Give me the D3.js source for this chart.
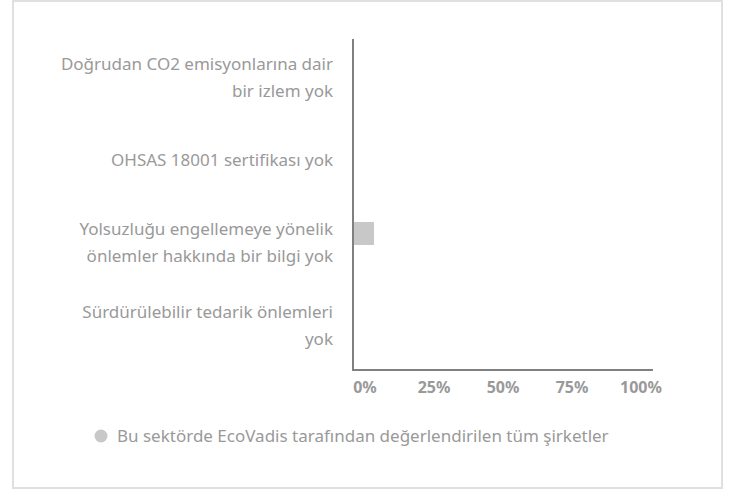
<!DOCTYPE html>
<html><head><meta charset="utf-8">
<script src="https://cdn.jsdelivr.net/npm/d3@7/dist/d3.min.js"></script>
<style>body{margin:0;background:#fff}svg{display:block}text{font-family:"Noto Sans",sans-serif}</style>
</head><body><svg id="c" width="730" height="490"></svg>
<script>
const categories = [
  "Doğrudan CO2 emisyonlarına dair\nbir izlem yok",
  "OHSAS 18001 sertifikası yok",
  "Yolsuzluğu engellemeye yönelik\nönlemler hakkında bir bilgi yok",
  "Sürdürülebilir tedarik önlemleri\nyok"
];
const seriesNames = ["Bu sektörde EcoVadis tarafından değerlendirilen tüm şirketler", "company"];
const sectorValues = [0, 0, 7, 0];
const tickValues = [0, 25, 50, 75, 100];
const tickLabels = ["0%", "25%", "50%", "75%", "100%"];

const svg = d3.select("#c");
svg.append("rect").attr("x",13).attr("y",1).attr("width",709).attr("height",487)
  .attr("fill","#fff").attr("stroke","#e0e0e0").attr("stroke-width",2);

const x = d3.scaleLinear().domain([0,100]).range([353,653]);
const y = d3.scaleBand().domain(categories).range([39,370]).padding(0);
const sub = d3.scaleBand().domain(seriesNames).range([0,y.bandwidth()]).paddingInner(0.07).paddingOuter(0.707);

// bars
svg.append("g").selectAll("rect").data(categories.map((c,i)=>({c,v:sectorValues[i]}))).join("rect")
  .attr("x",x(0)).attr("y",d=>y(d.c)+sub(seriesNames[0]))
  .attr("width",d=>x(d.v)-x(0)).attr("height",sub.bandwidth()).attr("fill","#c8c8c8");

// y axis line
svg.append("line").attr("x1",353).attr("x2",353).attr("y1",y.range()[0]).attr("y2",370)
  .attr("stroke","#808080").attr("stroke-width",2);
// x axis line
svg.append("line").attr("x1",352).attr("x2",x(100)).attr("y1",370).attr("y2",370)
  .attr("stroke","#808080").attr("stroke-width",2);

// y labels
const lineH = 27;
const yl = svg.append("g");
categories.forEach(c=>{
  const lines = c.split("\n");
  const cy = y(c)+y.bandwidth()/2;
  const t = yl.append("text").attr("text-anchor","end").attr("fill","#999").attr("font-size",17);
  lines.forEach((l,i)=>{
    t.append("tspan").attr("x",333).attr("y",cy + (i-(lines.length-1)/2)*lineH + 3).text(l);
  });
});

// x tick labels
const tp = d3.scalePoint().domain(tickValues).range([365,641]);
svg.append("g").selectAll("text").data(tickValues).join("text")
  .attr("x",d=>tp(d)).attr("y",393).attr("text-anchor","middle")
  .attr("font-size",16).attr("font-weight","bold").attr("fill","#999")
  .text((d,i)=>tickLabels[i]);

// legend
svg.append("circle").attr("cx",101).attr("cy",436).attr("r",6.5).attr("fill","#c8c8c8");
svg.append("text").attr("x",117).attr("y",442).attr("font-size",17).attr("fill","#999").text(seriesNames[0]);
</script></body></html>
